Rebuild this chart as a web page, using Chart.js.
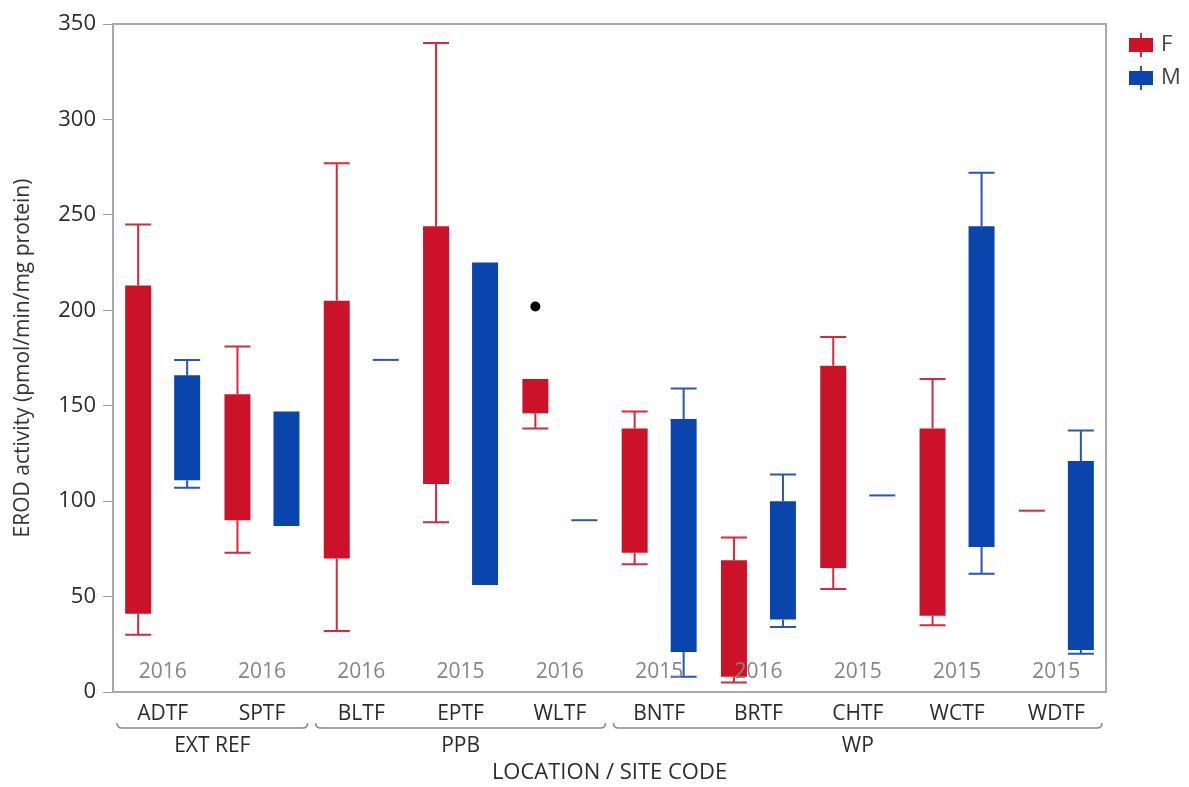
<!DOCTYPE html>
<html>
<head>
<meta charset="utf-8">
<script src="https://cdn.jsdelivr.net/npm/chart.js@4.4.0/dist/chart.umd.min.js"></script>
<style>
  html, body { margin: 0; padding: 0; background: #fff; }
  #wrap { width: 1189px; height: 787px; }
</style>
</head>
<body>
<div id="wrap"><canvas id="erodChart"></canvas></div>
<script>
// site codes, sampling years and location groups
const sites = ['ADTF', 'SPTF', 'BLTF', 'EPTF', 'WLTF', 'BNTF', 'BRTF', 'CHTF', 'WCTF', 'WDTF'];
const years = ['2016', '2016', '2016', '2015', '2016', '2015', '2016', '2015', '2015', '2015'];
const groupNames = ['EXT REF', 'PPB', 'WP'];
const groupFirst = [0, 2, 5];
const groupLast = [1, 4, 9];

// females (F)
const fWhiskLow  = [30, 73, 32, 89, 138, 67, 5, 54, 35, null];
const fBoxLow    = [41, 90, 70, 109, 146, 73, 8, 65, 40, 95];
const fBoxHigh   = [213, 156, 205, 244, 164, 138, 69, 171, 138, 95];
const fWhiskHigh = [245, 181, 277, 340, null, 147, 81, 186, 164, null];
const fOutliers  = [null, null, null, null, 202, null, null, null, null, null];

// males (M)
const mWhiskLow  = [107, null, null, null, null, 8, 34, null, 62, 20];
const mBoxLow    = [111, 87, 174, 56, 90, 21, 38, 103, 76, 22];
const mBoxHigh   = [166, 147, 174, 225, 90, 143, 100, 103, 244, 121];
const mWhiskHigh = [174, null, null, null, null, 159, 114, null, 272, 137];

const yTicks = [0, 50, 100, 150, 200, 250, 300, 350];

const COLORS = {
  F: { box: '#CC1229', line: '#D8283D' },
  M: { box: '#0A45AE', line: '#2856B8' },
  frame: '#a9a9a9',
  text: '#2b2b2b',
  year: '#858585'
};
const FONT = '"Open Sans", "DejaVu Sans", sans-serif';

function pairs(lo, hi) {
  return lo.map((v, i) => [v, hi[i]]);
}

// whiskers, single-value marks, outliers
const boxExtras = {
  id: 'boxExtras',
  afterDatasetsDraw(chart) {
    const ctx = chart.ctx;
    const y = chart.scales.y;
    const series = [
      { wl: fWhiskLow, wh: fWhiskHigh, bl: fBoxLow, bh: fBoxHigh, color: COLORS.F.line },
      { wl: mWhiskLow, wh: mWhiskHigh, bl: mBoxLow, bh: mBoxHigh, color: COLORS.M.line }
    ];
    series.forEach((s, d) => {
      const meta = chart.getDatasetMeta(d);
      meta.data.forEach((bar, i) => {
        const half = bar.width / 2;
        ctx.save();
        ctx.strokeStyle = s.color;
        ctx.lineWidth = 2;
        ctx.beginPath();
        if (s.bl[i] === s.bh[i]) {
          const py = y.getPixelForValue(s.bl[i]);
          ctx.moveTo(bar.x - half, py);
          ctx.lineTo(bar.x + half, py);
        }
        if (s.wh[i] != null) {
          const top = y.getPixelForValue(s.wh[i]);
          ctx.moveTo(bar.x, y.getPixelForValue(s.bh[i]));
          ctx.lineTo(bar.x, top);
          ctx.moveTo(bar.x - half, top);
          ctx.lineTo(bar.x + half, top);
        }
        if (s.wl[i] != null) {
          const bot = y.getPixelForValue(s.wl[i]);
          ctx.moveTo(bar.x, y.getPixelForValue(s.bl[i]));
          ctx.lineTo(bar.x, bot);
          ctx.moveTo(bar.x - half, bot);
          ctx.lineTo(bar.x + half, bot);
        }
        ctx.stroke();
        ctx.restore();
      });
    });
    const fMeta = chart.getDatasetMeta(0);
    fOutliers.forEach((v, i) => {
      if (v == null) return;
      ctx.save();
      ctx.fillStyle = '#000';
      ctx.beginPath();
      ctx.arc(fMeta.data[i].x, y.getPixelForValue(v), 5, 0, Math.PI * 2);
      ctx.fill();
      ctx.restore();
    });
  },
  afterDraw(chart) {
    const ctx = chart.ctx;
    const area = chart.chartArea;
    const x = chart.scales.x;
    const catW = (area.right - area.left) / sites.length;

    ctx.save();
    // frame
    ctx.strokeStyle = COLORS.frame;
    ctx.lineWidth = 2;
    ctx.strokeRect(area.left, area.top, area.right - area.left, area.bottom - area.top);

    // years inside the plot
    ctx.font = '21px ' + FONT;
    ctx.fillStyle = COLORS.year;
    ctx.textAlign = 'center';
    ctx.textBaseline = 'middle';
    years.forEach((yr, i) => {
      ctx.fillText(yr, x.getPixelForValue(i), area.bottom - 20);
    });

    // group brackets + labels
    const by = area.bottom + 36;
    ctx.strokeStyle = '#8a8a8a';
    ctx.lineWidth = 1.5;
    ctx.fillStyle = COLORS.text;
    ctx.font = '21px ' + FONT;
    groupNames.forEach((name, g) => {
      const x0 = x.getPixelForValue(groupFirst[g]) - catW / 2 + 4;
      const x1 = x.getPixelForValue(groupLast[g]) + catW / 2 - 4;
      ctx.beginPath();
      ctx.moveTo(x0, by - 5);
      ctx.quadraticCurveTo(x0, by, x0 + 5, by);
      ctx.lineTo(x1 - 5, by);
      ctx.quadraticCurveTo(x1, by, x1, by - 5);
      ctx.stroke();
      ctx.fillText(name, (x0 + x1) / 2, by + 18);
    });

    // x axis title
    ctx.font = '22px ' + FONT;
    ctx.fillText('LOCATION / SITE CODE', (area.left + area.right) / 2, area.bottom + 81);

    // legend
    const legend = [['F', COLORS.F], ['M', COLORS.M]];
    legend.forEach((item, k) => {
      const cy = area.top + 21 + k * 33;
      const lx = 1141;
      ctx.strokeStyle = item[1].line;
      ctx.lineWidth = 2;
      ctx.beginPath();
      ctx.moveTo(lx, cy - 12);
      ctx.lineTo(lx, cy + 12);
      ctx.stroke();
      ctx.fillStyle = item[1].box;
      ctx.fillRect(lx - 12, cy - 7, 24, 14);
      ctx.fillStyle = '#444';
      ctx.textAlign = 'left';
      ctx.font = '22px ' + FONT;
      ctx.fillText(item[0], lx + 20, cy);
    });
    ctx.restore();
  }
};

new Chart(document.getElementById('erodChart'), {
  type: 'bar',
  data: {
    labels: sites,
    datasets: [
      {
        label: 'F',
        data: pairs(fBoxLow, fBoxHigh),
        backgroundColor: COLORS.F.box,
        borderSkipped: false,
        categoryPercentage: 0.987,
        barPercentage: 0.53
      },
      {
        label: 'M',
        data: pairs(mBoxLow, mBoxHigh),
        backgroundColor: COLORS.M.box,
        borderSkipped: false,
        categoryPercentage: 0.987,
        barPercentage: 0.53
      }
    ]
  },
  options: {
    responsive: true,
    maintainAspectRatio: false,
    animation: false,
    layout: { padding: { left: 0, right: 83, top: 24, bottom: 0 } },
    plugins: {
      legend: { display: false },
      tooltip: { enabled: false }
    },
    scales: {
      x: {
        grid: { display: false },
        border: { display: false },
        ticks: {
          color: COLORS.text,
          font: { family: FONT, size: 21 },
          padding: 1,
          maxRotation: 0
        },
        afterFit(scale) { scale.height = 95; }
      },
      y: {
        min: 0,
        max: 350,
        afterBuildTicks(scale) { scale.ticks = yTicks.map(v => ({ value: v })); },
        grid: { drawOnChartArea: false, tickLength: 10, color: '#9a9a9a' },
        border: { display: false },
        ticks: {
          color: COLORS.text,
          font: { family: FONT, size: 22 },
          padding: 7
        },
        title: {
          display: true,
          text: 'EROD activity (pmol/min/mg protein)',
          color: '#333',
          font: { family: FONT, size: 21 },
          padding: { top: 10, bottom: 0 }
        },
        afterFit(scale) { scale.width = 113; }
      }
    }
  },
  plugins: [boxExtras]
});
</script>
</body>
</html>
